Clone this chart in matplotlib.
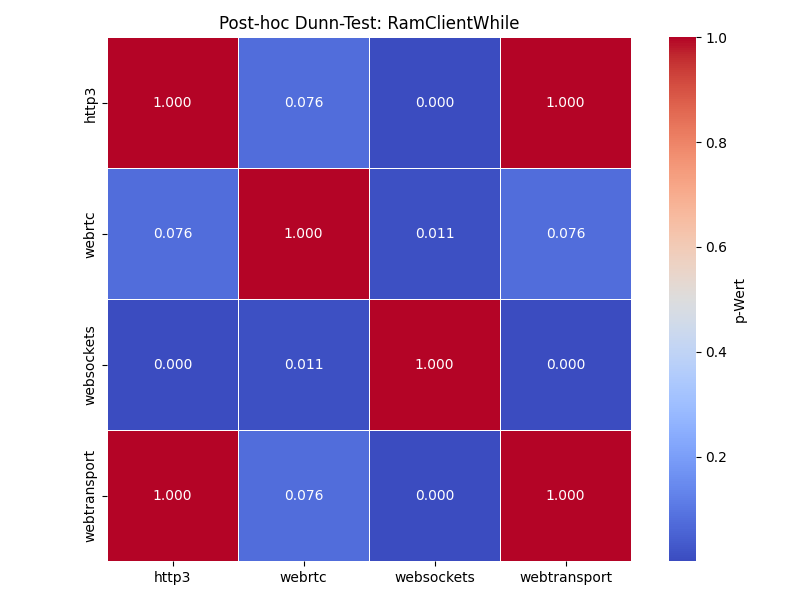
import numpy as np
import pandas as pd
import matplotlib
matplotlib.use("Agg")
import matplotlib.pyplot as plt
import seaborn as sns

# Dunn-test p-values (symmetric matrix)
groups = ["http3", "webrtc", "websockets", "webtransport"]
p_http3 = [1.0, 0.076, 0.0003, 1.0]
p_webrtc = [0.076, 1.0, 0.011, 0.076]
p_websockets = [0.0003, 0.011, 1.0, 0.0003]
p_webtransport = [1.0, 0.076, 0.0003, 1.0]

pvals = pd.DataFrame(
    [p_http3, p_webrtc, p_websockets, p_webtransport],
    index=groups,
    columns=groups,
)

fig, ax = plt.subplots(figsize=(8, 6), dpi=100)
sns.heatmap(
    pvals,
    annot=True,
    fmt=".3f",
    cmap="coolwarm",
    linewidths=0.5,
    linecolor="white",
    square=True,
    cbar_kws={"label": "p-Wert"},
    ax=ax,
)
ax.set_title("Post-hoc Dunn-Test: RamClientWhile")
plt.tight_layout()
plt.savefig("out.png")
